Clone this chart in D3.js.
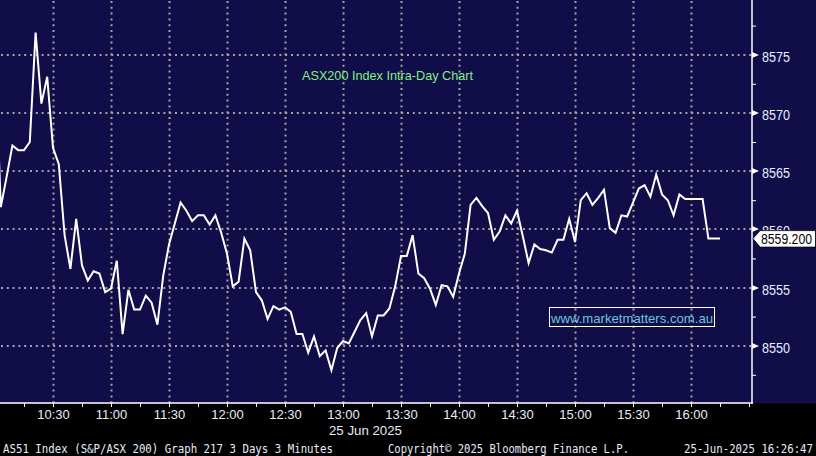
<!DOCTYPE html>
<html><head><meta charset="utf-8">
<script src="https://cdn.jsdelivr.net/npm/d3@7"></script>
<style>html,body{margin:0;padding:0;background:#000;overflow:hidden}</style>
</head><body><svg id="c" width="816" height="456"></svg>
<script>
// ---------- data ----------
const times = [
 "10:00","10:03","10:06","10:09","10:12","10:15","10:18","10:21","10:24","10:27",
 "10:30","10:33","10:36","10:39","10:42","10:45","10:48","10:51","10:54","10:57",
 "11:00","11:03","11:06","11:09","11:12","11:15","11:18","11:21","11:24","11:27",
 "11:30","11:33","11:36","11:39","11:42","11:45","11:48","11:51","11:54","11:57",
 "12:00","12:03","12:06","12:09","12:12","12:15","12:18","12:21","12:24","12:27",
 "12:30","12:33","12:36","12:39","12:42","12:45","12:48","12:51","12:54","12:57",
 "13:00","13:03","13:06","13:09","13:12","13:15","13:18","13:21","13:24","13:27",
 "13:30","13:33","13:36","13:39","13:42","13:45","13:48","13:51","13:54","13:57",
 "14:00","14:03","14:06","14:09","14:12","14:15","14:18","14:21","14:24","14:27",
 "14:30","14:33","14:36","14:39","14:42","14:45","14:48","14:51","14:54","14:57",
 "15:00","15:03","15:06","15:09","15:12","15:15","15:18","15:21","15:24","15:27",
 "15:30","15:33","15:36","15:39","15:42","15:45","15:48","15:51","15:54","15:57",
 "16:00","16:03","16:06","16:09","16:12","16:15"];
const values = [
 8575.0,8561.9,8564.5,8567.2,8566.8,8566.8,8567.5,8576.9,8570.8,8573.1,
 8567.0,8565.6,8559.5,8556.6,8560.9,8556.9,8555.6,8556.4,8556.2,8554.6,
 8554.9,8557.3,8551.0,8554.8,8553.1,8553.1,8554.3,8553.7,8551.8,8556.0,
 8558.7,8560.5,8562.3,8561.6,8560.7,8561.2,8561.2,8560.4,8561.2,8559.7,
 8557.9,8555.1,8555.5,8559.2,8558.2,8554.6,8553.9,8552.3,8553.4,8553.1,
 8553.3,8552.9,8551.0,8551.0,8549.4,8550.8,8549.1,8549.6,8547.9,8549.8,
 8550.4,8550.2,8551.2,8552.2,8552.8,8550.8,8552.6,8552.6,8553.2,8555.1,
 8557.7,8557.7,8559.5,8556.2,8555.8,8554.9,8553.5,8555.2,8555.1,8554.2,
 8556.2,8557.9,8562.1,8562.7,8562.0,8561.4,8559.1,8559.8,8561.2,8560.5,
 8561.6,8559.4,8557.1,8558.7,8558.3,8558.2,8558.0,8559.1,8559.1,8560.9,
 8558.9,8562.5,8563.1,8562.1,8562.7,8563.4,8560.1,8559.7,8561.2,8561.1,
 8562.3,8563.5,8563.8,8562.8,8564.7,8563.0,8562.5,8561.2,8563.0,8562.6,
 8562.6,8562.6,8562.6,8559.2,8559.2,8559.2];
const yTicks = [8550, 8555, 8560, 8565, 8570, 8575];
const yMinorTicks = [8547.5, 8552.5, 8557.5, 8562.5, 8567.5, 8572.5, 8577.5];
const xTickLabels = ["10:30","11:00","11:30","12:00","12:30","13:00","13:30","14:00","14:30","15:00","15:30","16:00"];
const xMinorTicks = ["10:15","10:45","11:15","11:45","12:15","12:45","13:15","13:45","14:15","14:45","15:15","15:45","16:15","16:30"];
const lastPrice = 8559.2;
const title = "ASX200 Index Intra-Day Chart";
const watermark = "www.marketmatters.com.au";
const dateLabel = "25 Jun 2025";
const footerLeft = "AS51 Index (S&P/ASX 200) Graph 217 3 Days 3 Minutes";
const footerMid = "Copyright\u00A9 2025 Bloomberg Finance L.P.";
const footerRight = "25-Jun-2025 16:26:47";

// ---------- chart ----------
const W = 816, H = 456;
const plotR = 752, plotB = 403.5;
const NAVY = "#100d49";
const parse = d3.timeParse("%H:%M");
const data = times.map((t, i) => ({t: parse(t), v: values[i]}));

const x = d3.scaleTime().domain([parse("10:00"), parse("16:30")]).range([-5, 749]);
const y = d3.scaleLinear().domain([8550, 8575]).range([345.7, 54.7]);

const svg = d3.select("#c");
svg.append("rect").attr("width", W).attr("height", H).attr("fill", "#000");
svg.append("rect").attr("width", W).attr("height", plotB).attr("fill", NAVY);

const FONT = "'Liberation Sans', Arial, sans-serif";
const GRID = "#a3a3a3";

// grid
const g = svg.append("g");
g.selectAll("line.v").data(xTickLabels).join("line")
  .attr("x1", d => Math.round(x(parse(d))) + 0.5).attr("x2", d => Math.round(x(parse(d))) + 0.5)
  .attr("y1", 1).attr("y2", plotB)
  .attr("stroke", GRID).attr("stroke-width", 2).attr("stroke-dasharray", "2,3.8");
g.selectAll("line.h").data(yTicks).join("line")
  .attr("y1", d => Math.round(y(d))).attr("y2", d => Math.round(y(d)))
  .attr("x1", 1).attr("x2", plotR)
  .attr("stroke", GRID).attr("stroke-width", 2).attr("stroke-dasharray", "2,3.8");

// title
svg.append("text").attr("x", 302).attr("y", 80).text(title)
  .attr("font-family", FONT).attr("font-size", 13.5).attr("fill", "#84ee84")
  .attr("textLength", 171).attr("lengthAdjust", "spacingAndGlyphs");

// watermark box
svg.append("rect").attr("x", 549.5).attr("y", 307.5).attr("width", 165).attr("height", 19)
  .attr("fill", "none").attr("stroke", "#ffffff").attr("stroke-width", 1);
svg.append("text").attr("x", 551).attr("y", 322.5).text(watermark)
  .attr("font-family", FONT).attr("font-size", 13.5).attr("fill", "#6cc6da")
  .attr("textLength", 162).attr("lengthAdjust", "spacingAndGlyphs");

// line
svg.append("clipPath").attr("id", "clip").append("rect")
  .attr("x", 0).attr("y", 0).attr("width", plotR).attr("height", plotB);
svg.append("path").datum(data).attr("clip-path", "url(#clip)")
  .attr("fill", "none").attr("stroke", "#ffffff").attr("stroke-width", 2)
  .attr("stroke-linejoin", "miter")
  .attr("d", d3.line().x(d => x(d.t)).y(d => y(d.v)));

// bottom axis
const xAxisMinor = d3.axisBottom(x).tickValues(xMinorTicks.map(parse)).tickSize(4).tickFormat("");
const xAxisMajor = d3.axisBottom(x).tickValues(xTickLabels.map(parse)).tickSize(4)
  .tickFormat(d3.timeFormat("%H:%M")).tickPadding(5);
const gx = svg.append("g").attr("transform", `translate(0,${plotB - 0.5})`);
gx.call(xAxisMajor);
const gx2 = svg.append("g").attr("transform", `translate(0,${plotB - 0.5})`);
gx2.call(xAxisMinor);
[gx, gx2].forEach(a => {
  a.select(".domain").remove();
  a.selectAll(".tick line").attr("stroke", "#ffffff");
});
gx.selectAll(".tick text").attr("font-family", FONT).attr("font-size", 13)
  .attr("fill", "#e6ecfa").attr("dy", 0).attr("y", 419)
  .attr("transform", `translate(0,${-(plotB - 0.5)})`);
svg.append("line").attr("x1", 0).attr("x2", plotR + 1).attr("y1", plotB - 0.5).attr("y2", plotB - 0.5)
  .attr("stroke", "#ffffff").attr("stroke-width", 1.5);

// right axis
const yAxisMinor = d3.axisRight(y).tickValues(yMinorTicks).tickSize(4).tickFormat("");
const gy = svg.append("g").attr("transform", `translate(${plotR},0)`).call(yAxisMinor);
gy.select(".domain").remove();
gy.selectAll(".tick line").attr("stroke", "#ffffff");
svg.append("line").attr("x1", plotR).attr("x2", plotR).attr("y1", 0).attr("y2", plotB)
  .attr("stroke", "#ffffff").attr("stroke-width", 1.5);
const yl = svg.append("g");
yl.selectAll("path").data(yTicks).join("path")
  .attr("d", d => { const yy = Math.round(y(d)); return `M${plotR},${yy - 3}L${plotR + 7},${yy}L${plotR},${yy + 3}Z`; })
  .attr("fill", "#ffffff");
yl.selectAll("text").data(yTicks).join("text")
  .attr("x", 762).attr("y", d => y(d) + 7).text(d => d)
  .attr("font-family", FONT).attr("font-size", 15).attr("fill", "#e8eeff")
  .attr("textLength", 28).attr("lengthAdjust", "spacingAndGlyphs");

// last price label
const ly = y(lastPrice);
svg.append("path")
  .attr("d", `M${plotR + 1},${ly}L${plotR + 8},${ly - 8}L815.5,${ly - 8}L815.5,${ly + 8.5}L${plotR + 8},${ly + 8.5}Z`)
  .attr("fill", "#ffffff").attr("stroke", "#000000").attr("stroke-width", 0.8);
svg.append("text").attr("x", 761).attr("y", ly + 5.5).text(lastPrice.toFixed(3))
  .attr("font-family", FONT).attr("font-size", 15).attr("fill", "#000000")
  .attr("textLength", 51).attr("lengthAdjust", "spacingAndGlyphs");

// date & footer
svg.append("text").attr("x", 365.5).attr("y", 435).attr("text-anchor", "middle").text(dateLabel)
  .attr("font-family", FONT).attr("font-size", 13).attr("fill", "#e6ecfa")
  .attr("textLength", 73).attr("lengthAdjust", "spacingAndGlyphs");
const FOOT = "'DejaVu Sans Mono', 'Liberation Mono', monospace";
[[footerLeft, 3, 330], [footerMid, 388, 241], [footerRight, 684, 129]].forEach(([t, xx, w]) => {
  svg.append("text").attr("x", xx).attr("y", 452.5).text(t)
    .attr("font-family", FOOT).attr("font-size", 12.5).attr("fill", "#e6ecfa")
    .attr("textLength", w).attr("lengthAdjust", "spacingAndGlyphs");
});
</script></body></html>
